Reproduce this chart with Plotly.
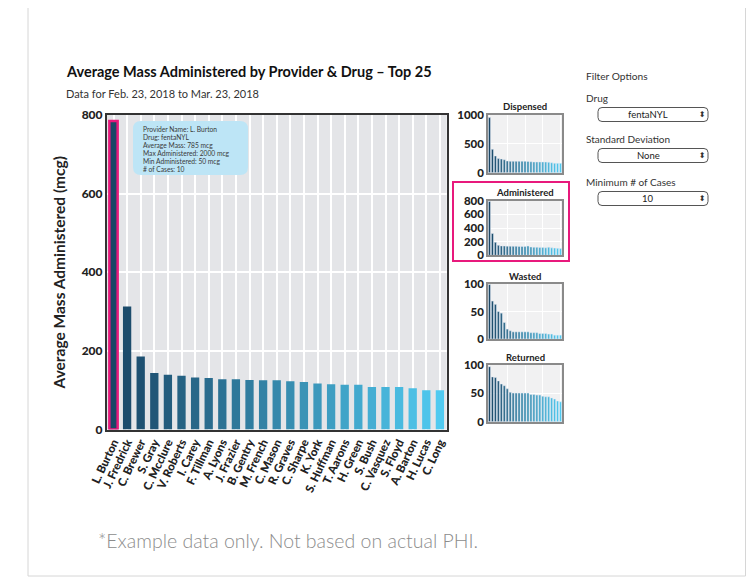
import plotly.graph_objects as go

# page body has an 8px margin, so the figure is drawn 8px in from the window edge
OFF = 8
W, H = 755 - OFF, 578 - OFF

providers = ["L. Burton", "J. Fredrick", "C. Brewer", "S. Gray", "C. Mcclure", "V. Roberts",
             "I. Carey", "F. Tillman", "A. Lyons", "J. Frazier", "B. Gentry", "M. French",
             "C. Mason", "R. Graves", "C. Sharpe", "K. York", "S. Huffman", "T. Aarons",
             "H. Green", "S. Bush", "C. Vasquez", "S. Floyd", "A. Barton", "H. Lucas", "C. Long"]
avg_mass = [785, 313, 186, 144, 139, 137, 132, 131, 128, 128, 126, 125, 125, 123, 121, 117,
            115, 114, 114, 108, 108, 108, 105, 100, 100]
dispensed = [955, 405, 290, 245, 237, 225, 203, 197, 197, 197, 197, 199, 197, 196, 190, 186,
             186, 186, 186, 185, 180, 172, 164, 162, 162]
administered = [790, 320, 190, 146, 138, 136, 134, 133, 131, 131, 130, 129, 128, 136, 122, 118,
                117, 116, 115, 110, 118, 109, 106, 102, 101]
wasted = [99, 69, 63, 50, 47, 30, 18, 15, 13, 13, 13, 13, 13, 13, 11.5, 11.5, 11.5, 10, 10, 10,
          9, 9, 7, 7, 7]
returned = [97, 79, 78, 72, 66.5, 63.5, 58, 52, 50.5, 50.5, 50.5, 50.5, 50.5, 50.5, 48, 48, 47,
            47, 45, 44, 44, 42, 40, 36.5, 35]
tooltip_lines = ["Provider Name: L. Burton", "Drug: fentaNYL", "Average Mass: 785 mcg",
                 "Max Administered: 2000 mcg", "Min Administered: 50 mcg", "# of Cases: 10"]
filter_labels = ["Drug", "Standard Deviation", "Minimum # of Cases"]
filter_values = ["fentaNYL", "None", "10"]

FONT = "Lato"
BOLDF = "Lato Black, Lato"
DARK = "#222222"
PINK = "#e8197c"


def px_x(x):
    return (x - OFF) / W


def px_y(y):
    return 1 - (y - OFF) / H


def grad(n, c0=(0x1a, 0x46, 0x66), c1=(0x50, 0xca, 0xf0)):
    out = []
    for i in range(n):
        t = i / (n - 1)
        r, g, b = [round(c0[k] + (c1[k] - c0[k]) * t) for k in range(3)]
        out.append(f"rgb({r},{g},{b})")
    return out


colors = grad(len(providers))

fig = go.Figure()

line_w = [2.5] + [0] * (len(providers) - 1)
line_c = [PINK] + ["rgba(0,0,0,0)"] * (len(providers) - 1)
fig.add_trace(go.Bar(x=providers, y=avg_mass, marker=dict(color=colors, line=dict(color=line_c, width=line_w)),
                     xaxis="x", yaxis="y", showlegend=False))

small = [("Dispensed", dispensed, [0, 1000], [0, 500, 1000], 115, 172.7),
         ("Administered", administered, [0, 800], [0, 200, 400, 600, 800], 200.7, 255.3),
         ("Wasted", wasted, [0, 100], [0, 50, 100], 284, 339),
         ("Returned", returned, [0, 100], [0, 50, 100], 365, 421.7)]

layout = dict(
    width=W, height=H, margin=dict(l=0, r=0, t=0, b=0, autoexpand=False),
    paper_bgcolor="white", plot_bgcolor="#e4e5e8",
    font=dict(family=FONT, color=DARK),
    bargap=0.39,
    xaxis=dict(domain=[px_x(106.7), px_x(446.7)], anchor="y", type="category", automargin=False,
               tickmode="array", tickvals=providers, ticktext=providers,
               showgrid=True, gridcolor="white", gridwidth=2,
               tickangle=-65, tickfont=dict(size=11.5, family=BOLDF, color=DARK),
               showline=True, linecolor="#333", linewidth=1.5, mirror=True, ticks="",
               fixedrange=True),
    yaxis=dict(domain=[px_y(429.5), px_y(115)], anchor="x", range=[0, 800], automargin=False,
               tickvals=[0, 200, 400, 600, 800], showgrid=True, gridcolor="white", gridwidth=2,
               tickfont=dict(size=12, family=BOLDF, color=DARK),
               showline=True, linecolor="#333", linewidth=1.5, mirror=True, ticks="",
               zeroline=False,
               title=dict(text="<b>Average Mass Administered (mcg)</b>", font=dict(size=15.5, color=DARK), standoff=12)),
)

annotations = []
shapes = []

for i, (name, vals, rng, tv, top, bot) in enumerate(small, start=2):
    xa, ya = f"xaxis{i}", f"yaxis{i}"
    fig.add_trace(go.Bar(x=providers, y=vals, marker=dict(color=grad(len(vals))),
                         xaxis=f"x{i}", yaxis=f"y{i}", showlegend=False, width=0.7))
    layout[xa] = dict(domain=[px_x(488), px_x(562)], anchor=f"y{i}", type="category", automargin=False,
                      showticklabels=False, showgrid=True, gridcolor="white", gridwidth=1,
                      showline=True, linecolor="#8a8a8a", linewidth=1.5, mirror=True, ticks="")
    layout[ya] = dict(domain=[px_y(bot), px_y(top)], anchor=f"x{i}", range=rng, tickvals=tv, automargin=False,
                      showgrid=True, gridcolor="white", gridwidth=1, zeroline=False,
                      tickfont=dict(size=11.5, family=BOLDF, color=DARK),
                      showline=True, linecolor="#8a8a8a", linewidth=1.5, mirror=True, ticks="")
    shapes.append(dict(type="rect", xref="paper", yref="paper", x0=px_x(488), x1=px_x(562),
                       y0=px_y(bot), y1=px_y(top), fillcolor="#f1f1f2", line=dict(width=0), layer="below"))
    annotations.append(dict(text=f"<b>{name}</b>", x=px_x(525), y=px_y(top - 8), xref="paper", yref="paper",
                            showarrow=False, font=dict(size=9.5, color=DARK), xanchor="center", yanchor="middle"))

# highlight box around Administered panel
shapes.append(dict(type="rect", xref="paper", yref="paper", x0=px_x(453), x1=px_x(569),
                   y0=px_y(261), y1=px_y(182), line=dict(color=PINK, width=2)))

# outer frame
shapes.append(dict(type="rect", xref="paper", yref="paper", x0=px_x(28), x1=px_x(745.5),
                   y0=px_y(576), y1=px_y(-5), line=dict(color="#d6d6d6", width=1)))


def rounded(x0, y0, x1, y1, r):
    def P(x, y):
        return f"{px_x(x)},{px_y(y)}"
    path = (f"M {P(x0 + r, y0)} L {P(x1 - r, y0)} Q {P(x1, y0)} {P(x1, y0 + r)} "
            f"L {P(x1, y1 - r)} Q {P(x1, y1)} {P(x1 - r, y1)} L {P(x0 + r, y1)} "
            f"Q {P(x0, y1)} {P(x0, y1 - r)} L {P(x0, y0 + r)} Q {P(x0, y0)} {P(x0 + r, y0)} Z")
    return path


# tooltip
shapes.append(dict(type="path", xref="paper", yref="paper", path=rounded(133, 121, 248, 175, 8),
                   fillcolor="#bde5f6", line=dict(width=0)))
for k, t in enumerate(tooltip_lines):
    annotations.append(dict(text=t, x=px_x(140.5), y=px_y(129 + 8 * k), xref="paper", yref="paper",
                            showarrow=False, xanchor="left", yanchor="middle",
                            font=dict(size=6.7, color="#3a3a3a")))

# titles
annotations.append(dict(text="<b>Average Mass Administered by Provider &amp; Drug – Top 25</b>",
                        x=px_x(64), y=px_y(71), xref="paper", yref="paper", showarrow=False,
                        xanchor="left", yanchor="middle", font=dict(size=14.5, color="#111")))
annotations.append(dict(text="Data for Feb. 23, 2018 to Mar. 23, 2018", x=px_x(64), y=px_y(93),
                        xref="paper", yref="paper", showarrow=False, xanchor="left", yanchor="middle",
                        font=dict(size=11, color="#333")))

# filter panel
annotations.append(dict(text="Filter Options", x=px_x(584), y=px_y(76), xref="paper", yref="paper",
                        showarrow=False, xanchor="left", yanchor="middle", font=dict(size=10.2, color="#333")))
label_y = [98, 139, 182]
for lab, val, ly in zip(filter_labels, filter_values, label_y):
    annotations.append(dict(text=lab, x=px_x(584), y=px_y(ly), xref="paper", yref="paper",
                            showarrow=False, xanchor="left", yanchor="middle", font=dict(size=10, color="#333")))
    by = ly + 16.5
    shapes.append(dict(type="path", xref="paper", yref="paper", path=rounded(598, by - 7, 708, by + 7, 4),
                       fillcolor="white", line=dict(color="#555", width=1)))
    annotations.append(dict(text=val, x=px_x(648), y=px_y(by), xref="paper", yref="paper",
                            showarrow=False, xanchor="center", yanchor="middle", font=dict(size=9.5, color="#222")))
    annotations.append(dict(text="⬍", x=px_x(702), y=px_y(by), xref="paper", yref="paper",
                            showarrow=False, xanchor="center", yanchor="middle",
                            font=dict(size=8, color="#333", family="DejaVu Sans")))

# footnote
annotations.append(dict(text="*Example data only. Not based on actual PHI.", x=px_x(96), y=px_y(540),
                        xref="paper", yref="paper", showarrow=False, xanchor="left", yanchor="middle",
                        font=dict(size=19.5, color="#8c8c8c", family="Lato Light, Lato")))

layout["annotations"] = annotations
layout["shapes"] = shapes
fig.update_layout(**layout)

fig.write_html("out.html")
